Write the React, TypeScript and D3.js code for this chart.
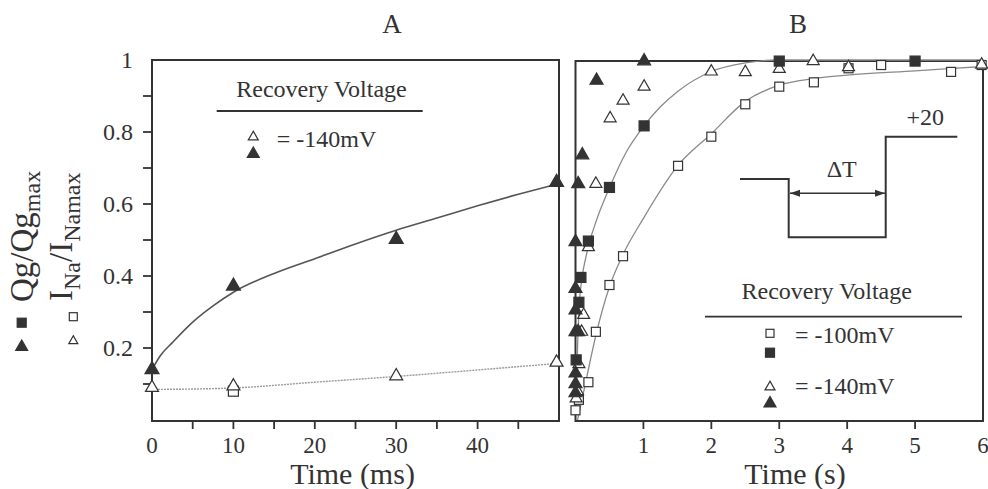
import React from 'react';
import * as d3 from 'd3';

// ---------- Panel A data (Time in ms) ----------
const aQgTri140: [number, number][] = [[0, 0.14], [10, 0.372], [30, 0.502], [49.7, 0.66]];
const aINaTri140: [number, number][] = [[0, 0.09], [10, 0.094], [30, 0.122], [49.7, 0.16]];
const aINaSq: [number, number][] = [[10, 0.08]];
const aFitQg: [number, number][] = [[0, 0.14], [1, 0.178], [2.5, 0.215], [5, 0.272], [7.5, 0.317], [10, 0.355], [15, 0.407], [20, 0.448], [25, 0.489], [30, 0.527], [35, 0.561], [40, 0.595], [45, 0.627], [49.7, 0.655]];
const aFitINa: [number, number][] = [[0, 0.085], [5, 0.086], [10, 0.089], [20, 0.105], [30, 0.121], [40, 0.139], [49.7, 0.157]];

// ---------- Panel B data (Time in s) ----------
const bINaSq100: [number, number][] = [[0, 0.027], [0.05, 0.056], [0.19, 0.105], [0.3, 0.245], [0.5, 0.375], [0.7, 0.455], [1.51, 0.706], [2.0, 0.787], [2.5, 0.877], [3.0, 0.926], [3.51, 0.938], [4.02, 0.977], [4.5, 0.986], [5.53, 0.967], [5.98, 0.986]];
const bQgSq100: [number, number][] = [[0.01, 0.167], [0.05, 0.327], [0.08, 0.396], [0.19, 0.497], [0.5, 0.646], [1.01, 0.817], [3.0, 0.997], [5.0, 0.997]];
const bINaTri140: [number, number][] = [[0.01, 0.06], [0.03, 0.08], [0.05, 0.155], [0.09, 0.245], [0.12, 0.292], [0.19, 0.48], [0.3, 0.656], [0.51, 0.838], [0.7, 0.887], [1.01, 0.926], [2.0, 0.968], [2.5, 0.966], [3.0, 0.975], [3.5, 0.997], [4.02, 0.98], [5.98, 0.987]];
const bQgTri140: [number, number][] = [[0, 0.075], [0, 0.1], [0, 0.13], [0, 0.245], [0.04, 0.245], [0, 0.305], [0, 0.365], [0, 0.495], [0.04, 0.656], [0.1, 0.736], [0.31, 0.943], [1.01, 0.997]];
const bFitFast: [number, number][] = [[0.01, 0.02], [0.03, 0.2], [0.05, 0.3], [0.1, 0.4], [0.15, 0.45], [0.2, 0.49], [0.3, 0.55], [0.5, 0.645], [0.75, 0.745], [1.0, 0.815], [1.25, 0.87], [1.5, 0.912], [2.0, 0.968], [2.5, 0.992], [3.0, 1.0], [6.0, 1.0]];
const bFitSlow: [number, number][] = [[0.03, 0.0], [0.1, 0.06], [0.2, 0.15], [0.3, 0.235], [0.5, 0.37], [0.7, 0.46], [1.0, 0.56], [1.5, 0.705], [2.0, 0.795], [2.5, 0.885], [3.0, 0.93], [3.5, 0.948], [4.0, 0.958], [5.0, 0.97], [6.0, 0.982]];

// ---------- Ticks ----------
const yTickLabels = [0.2, 0.4, 0.6, 0.8, 1];
const yTicks = [0.1, 0.2, 0.3, 0.4, 0.5, 0.6, 0.7, 0.8, 0.9];
const aXTickLabels = [0, 10, 20, 30, 40];
const aXTicks = [5, 10, 15, 20, 25, 30, 35, 40, 45];
const bXTickLabels = [1, 2, 3, 4, 5, 6];
const bXTicks = [1, 2, 3, 4, 5];

const INK = '#333';
const FONT = '"Liberation Serif", "Times New Roman", serif';

const y = d3.scaleLinear().domain([0, 1]).range([420, 60]);
const xA = d3.scaleLinear().domain([0, 50]).range([152, 559]);
const xB = d3.scaleLinear().domain([0, 6]).range([575.5, 983]);

function tri(cx: number, cy: number, w: number) {
  const h = w * 0.866;
  return `M${cx},${cy - (2 * h) / 3}L${cx - w / 2},${cy + h / 3}L${cx + w / 2},${cy + h / 3}Z`;
}

const Tri = ({ cx, cy, w, filled }: { cx: number; cy: number; w: number; filled: boolean }) => (
  <path d={tri(cx, cy, w)} fill={filled ? INK : '#fff'} stroke={INK} strokeWidth={1.2} strokeLinejoin="miter" />
);
const Sq = ({ cx, cy, s, filled }: { cx: number; cy: number; s: number; filled: boolean }) => (
  <rect x={cx - s / 2} y={cy - s / 2} width={s} height={s} fill={filled ? INK : '#fff'} stroke={INK} strokeWidth={1.2} />
);

export default function App() {
  const lineA = d3.line<[number, number]>().x((d) => xA(d[0])).y((d) => y(d[1])).curve(d3.curveMonotoneX);
  const lineB = d3.line<[number, number]>().x((d) => xB(d[0])).y((d) => y(d[1])).curve(d3.curveMonotoneX);

  return (
    <svg width={988} height={489} style={{ position: 'absolute', left: 0, top: 0, background: '#fff' }} fontFamily={FONT}>
      <defs>
        <clipPath id="clipA"><rect x={152} y={58} width={407} height={364} /></clipPath>
        <clipPath id="clipB"><rect x={575.5} y={58} width={408} height={364} /></clipPath>
        <marker id="arr" viewBox="0 0 10 10" refX={10} refY={5} markerWidth={14} markerHeight={10} markerUnits="userSpaceOnUse" orient="auto-start-reverse">
          <path d="M0,1.5L10,5L0,8.5Z" fill={INK} />
        </marker>
      </defs>

      {/* Titles */}
      <text x={392} y={33} fontSize={27} textAnchor="middle" fill={INK}>A</text>
      <text x={798} y={33} fontSize={27} textAnchor="middle" fill={INK}>B</text>

      {/* Y axis labels */}
      <text transform="translate(33,302) rotate(-90)" fontSize={33} fill={INK}>
        Qg/Qg<tspan dy={7} fontSize={24}>max</tspan>
      </text>
      <text transform="translate(72,301) rotate(-90)" fontSize={33} fill={INK}>
        I<tspan dy={8} fontSize={24}>Na</tspan><tspan dy={-8}>/I</tspan><tspan dy={8} fontSize={24}>Namax</tspan>
      </text>
      <Sq cx={21.7} cy={322.7} s={9} filled={true} />
      <Tri cx={21.7} cy={347} w={12} filled={true} />
      <Sq cx={73.3} cy={316.7} s={8} filled={false} />
      <Tri cx={73.3} cy={341} w={9} filled={false} />

      {/* Panel A frame & axes */}
      <rect x={152} y={60} width={407} height={361} fill="none" stroke={INK} strokeWidth={2} />
      {yTicks.map((t) => (
        <line key={'yt' + t} x1={143} x2={152} y1={y(t)} y2={y(t)} stroke={INK} strokeWidth={1.8} />
      ))}
      {yTickLabels.map((t) => (
        <text key={'yl' + t} x={133} y={y(t)} dy="0.35em" textAnchor="end" fontSize={24} fill={INK}>
          {t === 1 ? '1' : d3.format('.1f')(t)}
        </text>
      ))}
      {aXTicks.map((t) => (
        <line key={'ax' + t} x1={xA(t)} x2={xA(t)} y1={421} y2={429} stroke={INK} strokeWidth={1.8} />
      ))}
      {aXTickLabels.map((t) => (
        <text key={'axl' + t} x={xA(t)} y={453} textAnchor="middle" fontSize={23} fill={INK}>{t}</text>
      ))}
      <text x={352.5} y={484} textAnchor="middle" fontSize={30} fill={INK}>Time (ms)</text>

      {/* Panel A curves and points */}
      <g clipPath="url(#clipA)">
        <path d={lineA(aFitINa) || ''} fill="none" stroke="#9a9a9a" strokeWidth={1.4} strokeDasharray="2 1" />
        <path d={lineA(aFitQg) || ''} fill="none" stroke="#555" strokeWidth={1.6} />
      </g>
      {aINaSq.map((d, i) => <Sq key={'asq' + i} cx={xA(d[0])} cy={y(d[1])} s={10} filled={false} />)}
      {aINaTri140.map((d, i) => <Tri key={'aot' + i} cx={xA(d[0])} cy={y(d[1])} w={13} filled={false} />)}
      {aQgTri140.map((d, i) => <Tri key={'aft' + i} cx={xA(d[0])} cy={y(d[1])} w={14} filled={true} />)}

      {/* Panel A legend */}
      <text x={321.5} y={97} textAnchor="middle" fontSize={24} fill={INK}>Recovery Voltage</text>
      <line x1={216.7} x2={422.7} y1={111} y2={111} stroke={INK} strokeWidth={1.8} />
      <Tri cx={253.3} cy={137} w={10} filled={false} />
      <Tri cx={253.3} cy={154} w={12} filled={true} />
      <text x={276.7} y={147} fontSize={24} fill={INK}>= -140mV</text>

      {/* Panel B frame & axes */}
      <rect x={575.5} y={61} width={407.5} height={360} fill="none" stroke={INK} strokeWidth={2} />
      {bXTicks.map((t) => (
        <line key={'bx' + t} x1={xB(t)} x2={xB(t)} y1={421} y2={429} stroke={INK} strokeWidth={1.8} />
      ))}
      {bXTickLabels.map((t) => (
        <text key={'bxl' + t} x={xB(t)} y={453} textAnchor="middle" fontSize={23} fill={INK}>{t}</text>
      ))}
      <text x={795} y={484} textAnchor="middle" fontSize={30} fill={INK}>Time (s)</text>

      {/* Panel B curves */}
      <g clipPath="url(#clipB)">
        <path d={lineB(bFitSlow) || ''} fill="none" stroke="#8a8a8a" strokeWidth={1.3} />
        <path d={lineB(bFitFast) || ''} fill="none" stroke="#8a8a8a" strokeWidth={1.3} />
      </g>

      {/* Protocol inset */}
      <path d="M740,179H788.7V237.3H885.7V136.7H957.3" fill="none" stroke={INK} strokeWidth={2} />
      <line x1={790} x2={885} y1={193.3} y2={193.3} stroke={INK} strokeWidth={1.5} markerStart="url(#arr)" markerEnd="url(#arr)" />
      <text x={841.7} y={176.7} textAnchor="middle" fontSize={24} fill={INK}>ΔT</text>
      <text x={906.5} y={125} fontSize={24} fill={INK}>+20</text>

      {/* Panel B points */}
      {bINaSq100.map((d, i) => <Sq key={'bos' + i} cx={xB(d[0])} cy={y(d[1])} s={9} filled={false} />)}
      {bINaTri140.map((d, i) => <Tri key={'bot' + i} cx={xB(d[0])} cy={y(d[1])} w={12} filled={false} />)}
      {bQgSq100.map((d, i) => <Sq key={'bfs' + i} cx={xB(d[0])} cy={y(d[1])} s={10} filled={true} />)}
      {bQgTri140.map((d, i) => <Tri key={'bft' + i} cx={xB(d[0])} cy={y(d[1])} w={13} filled={true} />)}

      {/* Panel B legend */}
      <text x={826.7} y={299.3} textAnchor="middle" fontSize={24} fill={INK}>Recovery Voltage</text>
      <line x1={705} x2={962} y1={316.7} y2={316.7} stroke={INK} strokeWidth={1.8} />
      <Sq cx={770} cy={333.3} s={8} filled={false} />
      <Sq cx={770} cy={352.7} s={9} filled={true} />
      <text x={795} y={343.3} fontSize={24} fill={INK}>= -100mV</text>
      <Tri cx={770} cy={387} w={10} filled={false} />
      <Tri cx={770} cy={403.5} w={12} filled={true} />
      <text x={795} y={394} fontSize={24} fill={INK}>= -140mV</text>
    </svg>
  );
}
